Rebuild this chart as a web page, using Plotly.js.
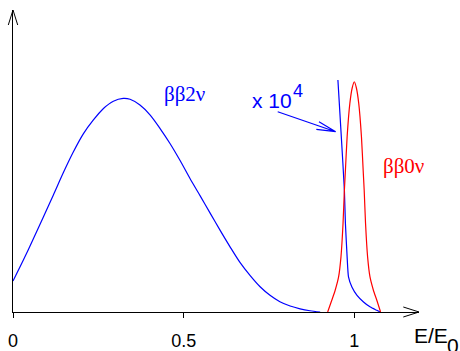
<!DOCTYPE html>
<html>
<head>
<meta charset="utf-8">
<script src="https://cdn.plot.ly/plotly-3.0.1.min.js"></script>
<style>html,body{margin:0;padding:0;background:#fff;}#chart{width:460px;height:351px;}</style>
</head>
<body>
<div id="chart"></div>
<script>
// ββ2ν continuous spectrum (energy E/E0, relative rate)
const x2nu = [0, 0.030, 0.060, 0.089, 0.118, 0.148, 0.177, 0.206, 0.235, 0.265, 0.294, 0.323, 0.343, 0.372, 0.402, 0.431, 0.460, 0.490, 0.519, 0.548, 0.578, 0.607, 0.636, 0.665, 0.695, 0.724, 0.753, 0.782, 0.812, 0.841, 0.870, 0.900];
const y2nu = [0.145, 0.242, 0.344, 0.445, 0.547, 0.654, 0.750, 0.834, 0.898, 0.953, 0.987, 1.0, 0.996, 0.969, 0.922, 0.859, 0.789, 0.708, 0.624, 0.545, 0.462, 0.382, 0.305, 0.232, 0.170, 0.118, 0.078, 0.048, 0.028, 0.015, 0.006, 0];
// ββ2ν tail near endpoint, scaled x 10^4
const xTail = [0.952, 0.962, 0.971, 0.974, 0.979, 0.983, 0.993, 1.008, 1.027, 1.047, 1.066, 1.076];
const yTail = [1.086, 0.820, 0.570, 0.414, 0.258, 0.164, 0.117, 0.078, 0.047, 0.023, 0.008, 0];
// ββ0ν peak
const x0nu = [0.922, 0.934, 0.944, 0.954, 0.961, 0.967, 0.971, 0.974, 0.979, 0.987, 0.994, 1.0, 1.006, 1.013, 1.021, 1.026, 1.029, 1.033, 1.039, 1.046, 1.056, 1.066, 1.077];
const y0nu = [0, 0.055, 0.102, 0.164, 0.258, 0.414, 0.570, 0.664, 0.820, 0.977, 1.050, 1.078, 1.050, 0.977, 0.820, 0.664, 0.570, 0.414, 0.258, 0.164, 0.102, 0.055, 0];
// axis ticks
const tickVals = [0, 0.5, 1];
const tickText = ['0', '0.5', '1'];

const blue = '#0000ff', red = '#ff0000';
const traces = [
  {x: x2nu, y: y2nu, type: 'scatter', mode: 'lines', line: {color: blue, width: 1.2, shape: 'spline', smoothing: 0.8}, cliponaxis: false, hoverinfo: 'skip'},
  {x: xTail, y: yTail, type: 'scatter', mode: 'lines', line: {color: blue, width: 1.2, shape: 'spline', smoothing: 0.5}, cliponaxis: false, hoverinfo: 'skip'},
  {x: x0nu, y: y0nu, type: 'scatter', mode: 'lines', line: {color: red, width: 1.2, shape: 'spline', smoothing: 0.6}, cliponaxis: false, hoverinfo: 'skip'}
];

const serif = 'Liberation Serif, Times New Roman, serif';
const sans = 'Liberation Sans, Arial, sans-serif';

const layout = {
  width: 460, height: 351,
  margin: {l: 13, r: 41, t: 10, b: 39, pad: 0},
  paper_bgcolor: '#fff', plot_bgcolor: '#fff',
  showlegend: false,
  xaxis: {
    range: [0, 1.1896], showgrid: false, zeroline: false,
    showline: true, linecolor: '#000', linewidth: 1,
    ticks: 'outside', ticklen: 5, tickwidth: 1, tickcolor: '#000',
    tickvals: tickVals, ticktext: tickText, ticklabelstandoff: 7,
    tickfont: {family: sans, size: 18, color: '#000'},
    automargin: false, fixedrange: true
  },
  yaxis: {
    range: [0, 1.414], showgrid: false, zeroline: false,
    showline: true, linecolor: '#000', linewidth: 1,
    ticks: '', showticklabels: false, automargin: false, fixedrange: true
  },
  shapes: [
    {type: 'path', xref: 'paper', yref: 'paper', path: 'M 0.9613 0.0166 L 1 0 L 0.9613 -0.0166', line: {color: '#000', width: 1}},
    {type: 'path', xref: 'paper', yref: 'paper', path: 'M -0.0116 0.9503 L 0 1 L 0.0116 0.9503', line: {color: '#000', width: 1}},
    {type: 'path', xref: 'x', yref: 'y', path: 'M 0.7756 0.9377 L 0.9455 0.8441 M 0.8966 0.8909 L 0.9455 0.8441 L 0.8887 0.8553', line: {color: blue, width: 1.2}}
  ],
  annotations: [
    {text: 'ββ2ν', x: 0.4374, y: 1.0206, xref: 'x', yref: 'y', xanchor: 'left', yanchor: 'middle', showarrow: false, font: {family: serif, size: 21, color: blue}},
    {text: 'x 10', x: 0.6934, y: 0.9916, xref: 'x', yref: 'y', xanchor: 'left', yanchor: 'middle', showarrow: false, font: {family: sans, size: 21, color: blue}},
    {text: '4', x: 0.8133, y: 1.036, xref: 'x', yref: 'y', xanchor: 'left', yanchor: 'middle', showarrow: false, font: {family: sans, size: 18, color: blue}},
    {text: 'ββ0ν', x: 1.0773, y: 0.6835, xref: 'x', yref: 'y', xanchor: 'left', yanchor: 'middle', showarrow: false, font: {family: serif, size: 21, color: red}},
    {text: 'E/E', x: 0.9822, y: -0.0788, xref: 'paper', yref: 'paper', xanchor: 'left', yanchor: 'middle', showarrow: false, font: {family: sans, size: 21, color: '#000'}},
    {text: '0', x: 1.0652, y: -0.112, xref: 'paper', yref: 'paper', xanchor: 'left', yanchor: 'middle', showarrow: false, font: {family: sans, size: 21, color: '#000'}}
  ]
};

Plotly.newPlot('chart', traces, layout, {staticPlot: true, displayModeBar: false});
</script>
</body>
</html>
